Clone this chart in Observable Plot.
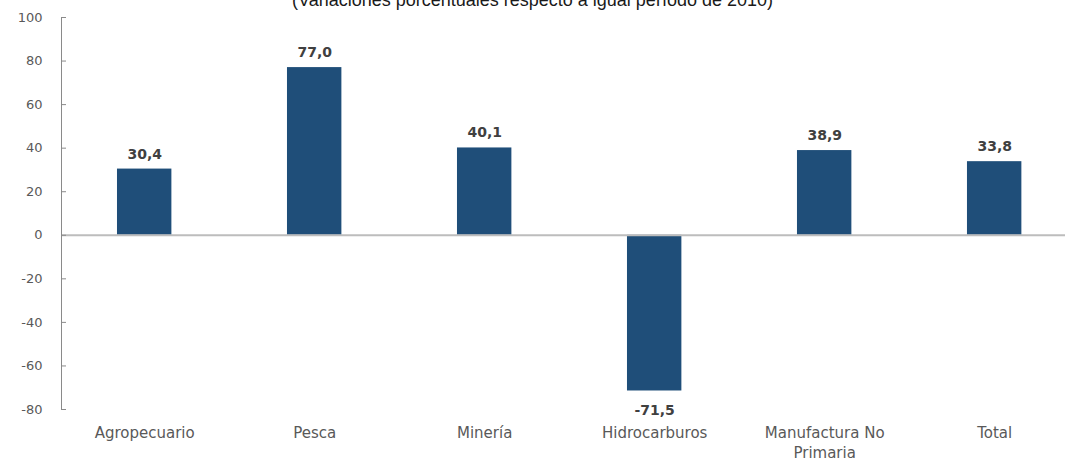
<!DOCTYPE html>
<html>
<head>
<meta charset="utf-8">
<script src="https://cdn.jsdelivr.net/npm/d3@7"></script>
<script src="https://cdn.jsdelivr.net/npm/@observablehq/plot@0.6"></script>
<style>
  html, body { margin: 0; padding: 0; background: #fff; overflow: hidden; }
  #wrap { position: relative; width: 1065px; height: 459px; }
  #title { position: absolute; left: 0; top: -10px; width: 1065px; text-align: center;
    font-family: "Liberation Sans", Arial, sans-serif; font-size: 18px; line-height: 20px; color: #1a1a1a; }
  #chart { position: absolute; left: 0; top: 0; }
</style>
</head>
<body>
<div id="wrap">
  <div id="chart"></div>
  <div id="title">(Variaciones porcentuales respecto a igual período de 2010)</div>
</div>
<script>
const categories = ["Agropecuario", "Pesca", "Minería", "Hidrocarburos", "Manufactura No Primaria", "Total"];
const values = [30.4, 77.0, 40.1, -71.5, 38.9, 33.8];
const yTicks = [-80, -60, -40, -20, 0, 20, 40, 60, 80, 100];
const tickLabels = {"Manufactura No Primaria": "Manufactura No\nPrimaria"};

const data = categories.map((c, i) => ({cat: c, val: values[i]}));
const fmt = v => v.toFixed(1).replace(".", ",");
const W = 1065, ML = 61;

const chart = Plot.plot({
  width: W,
  height: 459,
  marginTop: 17,
  marginBottom: 50,
  marginLeft: ML,
  marginRight: 0,
  style: {background: "#fff", overflow: "visible"},
  x: {domain: categories, paddingInner: 0.68, paddingOuter: 0.293, align: 0.562, round: false, label: null},
  y: {domain: [-80, 100], label: null},
  marks: [
    Plot.barY(data, {x: "cat", y: "val", fill: "#1f4e79"}),
    Plot.ruleY([0], {stroke: "#bdbdbd", strokeWidth: 2}),
    Plot.frame({anchor: "left", stroke: "#8a8a8a"}),
    Plot.ruleY(yTicks, {y: d => d, stroke: "#8a8a8a", insetRight: W - ML - 5}),
    Plot.axisY({ticks: yTicks, tickSize: 0, tickPadding: 19, tickFormat: d => String(d),
      fontSize: 13, fontFamily: "DejaVu Sans", fill: "#595959"}),
    Plot.axisX({tickSize: 0, tickPadding: 15, tickFormat: d => tickLabels[d] || d,
      fontSize: 15, fontFamily: "DejaVu Sans", fill: "#595959", lineHeight: 1.3}),
    Plot.text(data.filter(d => d.val >= 0), {x: "cat", y: "val", text: d => fmt(d.val),
      dy: -15, fontSize: 14, fontWeight: "bold", fontFamily: "DejaVu Sans", fill: "#404040"}),
    Plot.text(data.filter(d => d.val < 0), {x: "cat", y: "val", text: d => fmt(d.val),
      dy: 20, fontSize: 14, fontWeight: "bold", fontFamily: "DejaVu Sans", fill: "#404040"})
  ]
});
document.getElementById("chart").appendChild(chart);
</script>
</body>
</html>
